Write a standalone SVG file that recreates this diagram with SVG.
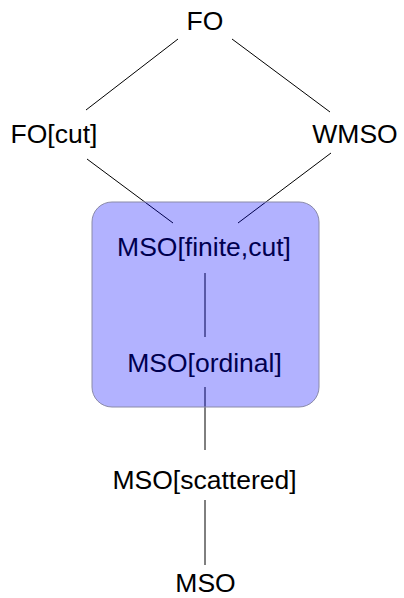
<svg xmlns="http://www.w3.org/2000/svg" width="404" height="598" viewBox="0 0 404 598">
<style>
text{font-family:"Liberation Sans",Arial,sans-serif;font-size:26.5px;fill:#000;text-anchor:middle}
.edge{stroke:#000;stroke-width:1;fill:none}
.box{fill:#0000ff;fill-opacity:0.3;stroke:#8a8aa8;stroke-width:1}
</style>
<rect width="404" height="598" fill="#fff"/>
<g id="connectors">
<line class="edge" x1="178" y1="39" x2="86" y2="110"/>
<line class="edge" x1="232" y1="39" x2="330" y2="112"/>
<line class="edge" x1="87" y1="159" x2="173" y2="223"/>
<line class="edge" x1="331" y1="153" x2="238" y2="223"/>
<line class="edge" x1="205" y1="273" x2="205" y2="337"/>
<line class="edge" x1="205" y1="387" x2="205" y2="450"/>
<line class="edge" x1="205" y1="500" x2="205" y2="565"/>
</g>
<g id="n-fo"><text x="205" y="30">FO</text></g>
<g id="n-focut"><text x="54" y="143">FO[cut]</text></g>
<g id="n-wmso"><text x="355" y="143">WMSO</text></g>
<g id="n-msofinitecut"><text x="204" y="256">MSO[finite,cut]</text></g>
<g id="n-msoordinal"><text x="204.5" y="372">MSO[ordinal]</text></g>
<g id="n-msoscattered"><text x="204.5" y="489">MSO[scattered]</text></g>
<g id="n-mso"><text x="205.5" y="592">MSO</text></g>
<g id="highlight"><rect class="box" x="92" y="202" width="227" height="205" rx="20" ry="20"/></g>
</svg>
